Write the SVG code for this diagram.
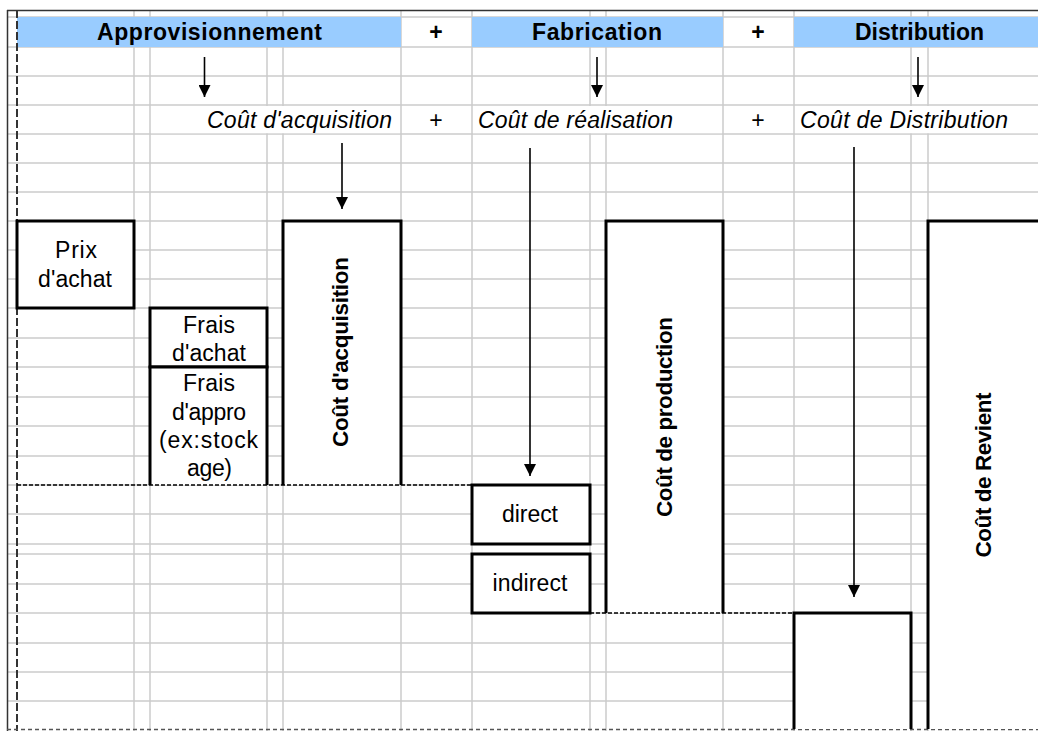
<svg xmlns="http://www.w3.org/2000/svg" width="1038" height="731" viewBox="0 0 1038 731">
<style>
.grid line{stroke:#CBCBCB;stroke-width:1.5}
.hdr{fill:#99CCFF}
.cov{fill:#FFFFFF}
.box{fill:#FFFFFF;stroke:#000;stroke-width:3}
.open{fill:none;stroke:#000;stroke-width:3}
.dash{stroke:#000;stroke-width:1.5;stroke-dasharray:4 2;fill:none}
.t{font-family:"Liberation Sans",Arial,sans-serif;font-size:23px;fill:#000;text-anchor:middle}
.b{font-weight:bold}
.v{font-size:22.5px}
.i{font-style:italic;text-anchor:start}
.arr{stroke:#000;stroke-width:1.6;fill:none;marker-end:url(#ah)}
</style>
<defs>
<marker id="ah" markerUnits="userSpaceOnUse" markerWidth="13" markerHeight="12" refX="12" refY="6" orient="auto">
<path d="M0,0 L12,6 L0,12 z" fill="#000"/>
</marker>
</defs>
<rect x="0" y="0" width="1038" height="731" fill="#FFFFFF"/>
<g id="grid" class="grid">
<line x1="7" y1="17" x2="1038" y2="17"/>
<line x1="7" y1="47" x2="1038" y2="47"/>
<line x1="7" y1="76" x2="1038" y2="76"/>
<line x1="7" y1="105" x2="1038" y2="105"/>
<line x1="7" y1="134" x2="1038" y2="134"/>
<line x1="7" y1="163" x2="1038" y2="163"/>
<line x1="7" y1="192" x2="1038" y2="192"/>
<line x1="7" y1="221" x2="1038" y2="221"/>
<line x1="7" y1="250" x2="1038" y2="250"/>
<line x1="7" y1="279" x2="1038" y2="279"/>
<line x1="7" y1="308" x2="1038" y2="308"/>
<line x1="7" y1="338" x2="1038" y2="338"/>
<line x1="7" y1="367" x2="1038" y2="367"/>
<line x1="7" y1="397" x2="1038" y2="397"/>
<line x1="7" y1="426" x2="1038" y2="426"/>
<line x1="7" y1="456" x2="1038" y2="456"/>
<line x1="7" y1="485" x2="1038" y2="485"/>
<line x1="7" y1="514" x2="1038" y2="514"/>
<line x1="7" y1="544" x2="1038" y2="544"/>
<line x1="7" y1="554" x2="1038" y2="554"/>
<line x1="7" y1="584" x2="1038" y2="584"/>
<line x1="7" y1="613" x2="1038" y2="613"/>
<line x1="7" y1="643" x2="1038" y2="643"/>
<line x1="7" y1="672" x2="1038" y2="672"/>
<line x1="7" y1="701" x2="1038" y2="701"/>
<line x1="134" y1="10" x2="134" y2="731"/>
<line x1="150" y1="10" x2="150" y2="731"/>
<line x1="267" y1="10" x2="267" y2="731"/>
<line x1="283" y1="10" x2="283" y2="731"/>
<line x1="401" y1="10" x2="401" y2="731"/>
<line x1="472" y1="10" x2="472" y2="731"/>
<line x1="590" y1="10" x2="590" y2="731"/>
<line x1="606" y1="10" x2="606" y2="731"/>
<line x1="723" y1="10" x2="723" y2="731"/>
<line x1="794" y1="10" x2="794" y2="731"/>
<line x1="911" y1="10" x2="911" y2="731"/>
<line x1="928" y1="10" x2="928" y2="731"/>
</g>
<g id="overflow-covers">
<rect class="cov" x="151" y="106" width="249" height="27.2"/>
<rect class="cov" x="473" y="106" width="249" height="27.2"/>
<rect class="cov" x="795" y="106" width="243" height="27.2"/>
</g>
<g id="header">
<rect class="hdr" x="17" y="17" width="384" height="30"/>
<rect class="hdr" x="472" y="17" width="251" height="30"/>
<rect class="hdr" x="794" y="17" width="244" height="30"/>
<text class="t b" x="209.5" y="40" textLength="225" lengthAdjust="spacing">Approvisionnement</text>
<text class="t b" x="436" y="40">+</text>
<text class="t b" x="597" y="40" textLength="130" lengthAdjust="spacing">Fabrication</text>
<text class="t b" x="758" y="40">+</text>
<text class="t b" x="919.5" y="40" textLength="129" lengthAdjust="spacing">Distribution</text>
</g>
<g id="sheet-borders">
<line x1="7" y1="10.5" x2="1038" y2="10.5" stroke="#333" stroke-width="1.5"/>
<line x1="7.5" y1="10" x2="7.5" y2="731" stroke="#333" stroke-width="1.5"/>
<line x1="17" y1="10" x2="17" y2="731" stroke="#333" stroke-width="2" stroke-dasharray="8 3"/>
<line x1="7" y1="729.5" x2="1038" y2="729.5" stroke="#555" stroke-width="1.5" stroke-dasharray="4 3"/>
</g>
<g id="subtotals">
<text class="t i" x="207" y="128" textLength="185" lengthAdjust="spacing">Coût d'acquisition</text>
<text class="t" x="436" y="128">+</text>
<text class="t i" x="478" y="128" textLength="195" lengthAdjust="spacing">Coût de réalisation</text>
<text class="t" x="758" y="128">+</text>
<text class="t i" x="800" y="128" textLength="208" lengthAdjust="spacing">Coût de Distribution</text>
</g>
<g id="node-prix-achat">
<rect class="box" x="17" y="221" width="117" height="87"/>
<text class="t" x="76" y="258" textLength="42" lengthAdjust="spacing">Prix</text>
<text class="t" x="75" y="287" textLength="74" lengthAdjust="spacing">d'achat</text>
</g>
<g id="node-frais-achat">
<rect class="box" x="150" y="308" width="117" height="59"/>
<text class="t" x="209" y="333" textLength="52" lengthAdjust="spacing">Frais</text>
<text class="t" x="209" y="361" textLength="74" lengthAdjust="spacing">d'achat</text>
</g>
<g id="node-frais-appro">
<rect class="cov" x="150" y="367" width="117" height="118"/>
<path class="open" d="M150,485 V367 H267 V485"/>
<text class="t" x="209" y="391" textLength="52" lengthAdjust="spacing">Frais</text>
<text class="t" x="209" y="420" textLength="74" lengthAdjust="spacing">d'appro</text>
<text class="t" x="208.5" y="448" textLength="99" lengthAdjust="spacing">(ex:stock</text>
<text class="t" x="209.5" y="476" textLength="45" lengthAdjust="spacing">age)</text>
</g>
<g id="node-cout-acquisition">
<rect class="cov" x="283" y="221" width="118" height="264"/>
<path class="open" d="M283,485 V221 H401 V485"/>
<text class="t b v" transform="translate(348,352) rotate(-90)" textLength="190" lengthAdjust="spacing">Coût d'acquisition</text>
</g>
<g id="node-direct">
<rect class="box" x="472" y="485" width="118" height="59"/>
<text class="t" x="530" y="522" textLength="56" lengthAdjust="spacing">direct</text>
</g>
<g id="node-indirect">
<rect class="box" x="472" y="554" width="118" height="59"/>
<text class="t" x="530" y="591" textLength="75" lengthAdjust="spacing">indirect</text>
</g>
<g id="node-cout-production">
<rect class="cov" x="606" y="221" width="117" height="392"/>
<path class="open" d="M606,613 V221 H723 V613"/>
<text class="t b v" transform="translate(672,417) rotate(-90)" textLength="200" lengthAdjust="spacing">Coût de production</text>
</g>
<g id="node-distribution">
<rect class="cov" x="794" y="613" width="117" height="116"/>
<path class="open" d="M794,729 V613 H911 V729"/>
</g>
<g id="node-cout-revient">
<rect class="cov" x="928" y="221" width="112" height="508"/>
<path class="open" d="M928,729 V221 H1040"/>
<text class="t b v" transform="translate(991,475) rotate(-90)" textLength="165" lengthAdjust="spacing">Coût de Revient</text>
</g>
<g id="connectors">
<path class="dash" d="M17,485 H472"/>
<path class="dash" d="M590,613 H794"/>
<line class="arr" x1="204.5" y1="57" x2="204.5" y2="97"/>
<line class="arr" x1="597" y1="57" x2="597" y2="97"/>
<line class="arr" x1="918" y1="57" x2="918" y2="97"/>
<line class="arr" x1="342" y1="143" x2="342" y2="209"/>
<line class="arr" x1="530" y1="148" x2="530" y2="476"/>
<line class="arr" x1="854" y1="147" x2="854" y2="597"/>
</g>
</svg>
